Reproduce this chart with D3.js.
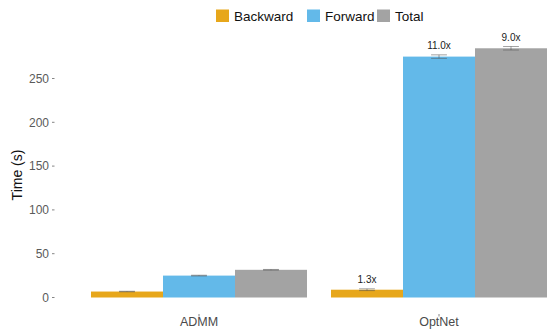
<!DOCTYPE html>
<html>
<head>
<meta charset="utf-8">
<script src="https://cdn.jsdelivr.net/npm/d3@7"></script>
<style>
  body { margin: 0; background: #fff; }
  svg { display: block; font-family: "Liberation Sans", Arial, Helvetica, sans-serif; }
</style>
</head>
<body>
<svg id="chart" width="547" height="329"></svg>
<script>
// Timing data (seconds) per method and pass
const methods = ["ADMM", "OptNet"];
const passes = ["Backward", "Forward", "Total"];
const backwardTime = [6.8, 8.9];
const forwardTime = [25.0, 275.0];
const totalTime = [31.6, 284.5];
const backwardErr = [0.3, 1.0];
const forwardErr = [0.4, 2.0];
const totalErr = [0.4, 2.0];
// Speed-up labels shown above the OptNet bars
const speedupLabels = [["", "", ""], ["1.3x", "11.0x", "9.0x"]];
const yTicks = [0, 50, 100, 150, 200, 250];

const colors = { Backward: "#E7A71B", Forward: "#63B9E9", Total: "#A3A3A3" };

const rows = [];
methods.forEach((m, i) => {
  const vals = [backwardTime[i], forwardTime[i], totalTime[i]];
  const errs = [backwardErr[i], forwardErr[i], totalErr[i]];
  passes.forEach((p, j) => rows.push({ method: m, pass: p, value: vals[j], err: errs[j], label: speedupLabels[i][j] }));
});

const svg = d3.select("#chart");
const panel = { left: 55, right: 583, top: 35, bottom: 310 };

const x = d3.scalePoint().domain(methods).range([panel.left, panel.right]).padding(0.6);
const groupWidth = x.step() * 0.9;
const xInner = d3.scaleBand().domain(passes).range([-groupWidth / 2, groupWidth / 2]);

const y = d3.scaleLinear().domain([0, 250]).range([297.5, 78.5]);

// Y axis: labels and short ticks
const yAxis = svg.append("g");
yAxis.selectAll("text").data(yTicks).join("text")
  .attr("x", 49).attr("y", d => y(d)).attr("dy", "0.35em")
  .attr("text-anchor", "end").attr("font-size", 12).attr("fill", "#5a5a5a")
  .text(d => d);
yAxis.selectAll("line").data(yTicks).join("line")
  .attr("x1", 52).attr("x2", 54.5).attr("y1", d => y(d)).attr("y2", d => y(d))
  .attr("stroke", "#666").attr("stroke-width", 0.8);

// X axis labels and ticks
const xAxis = svg.append("g");
xAxis.selectAll("text").data(methods).join("text")
  .attr("x", d => x(d)).attr("y", 326)
  .attr("text-anchor", "middle").attr("font-size", 12.5).attr("fill", "#4a4a4a")
  .text(d => d);
xAxis.selectAll("line").data(methods).join("line")
  .attr("x1", d => x(d)).attr("x2", d => x(d)).attr("y1", panel.bottom + 4).attr("y2", panel.bottom + 6.5)
  .attr("stroke", "#666").attr("stroke-width", 0.8);

// Y axis title
svg.append("text")
  .attr("transform", `translate(22,175) rotate(-90)`)
  .attr("text-anchor", "middle").attr("font-size", 14).attr("fill", "#111")
  .text("Time (s)");

// Bars
svg.append("g").selectAll("rect").data(rows).join("rect")
  .attr("x", d => x(d.method) + xInner(d.pass))
  .attr("width", xInner.bandwidth())
  .attr("y", d => y(d.value))
  .attr("height", d => y(0) - y(d.value))
  .attr("fill", d => colors[d.pass]);

// Error bars
const ew = xInner.bandwidth() * 0.22;
const eb = svg.append("g").attr("stroke", "#555").attr("stroke-opacity", 0.55).attr("stroke-width", 1);
rows.forEach(d => {
  const cx = x(d.method) + xInner(d.pass) + xInner.bandwidth() / 2;
  const top = y(d.value + d.err), bot = y(d.value - d.err);
  eb.append("line").attr("x1", cx - ew / 2).attr("x2", cx + ew / 2).attr("y1", top).attr("y2", top);
  eb.append("line").attr("x1", cx - ew / 2).attr("x2", cx + ew / 2).attr("y1", bot).attr("y2", bot);
  eb.append("line").attr("x1", cx).attr("x2", cx).attr("y1", top).attr("y2", bot);
});

// Speed-up labels
svg.append("g").selectAll("text").data(rows.filter(d => d.label)).join("text")
  .attr("x", d => x(d.method) + xInner(d.pass) + xInner.bandwidth() / 2)
  .attr("y", d => y(d.value + d.err) - 6)
  .attr("text-anchor", "middle").attr("font-size", 10).attr("fill", "#222")
  .text(d => d.label);

// Legend
const legend = svg.append("g");
const legendItems = [
  { key: "Backward", x: 216 },
  { key: "Forward", x: 307 },
  { key: "Total", x: 377 }
];
legendItems.forEach(it => {
  legend.append("rect").attr("x", it.x).attr("y", 9.5).attr("width", 13).attr("height", 12.5).attr("fill", colors[it.key]);
  legend.append("text").attr("x", it.x + 18).attr("y", 20.5).attr("font-size", 13.5).attr("fill", "#111").text(it.key);
});
</script>
</body>
</html>
